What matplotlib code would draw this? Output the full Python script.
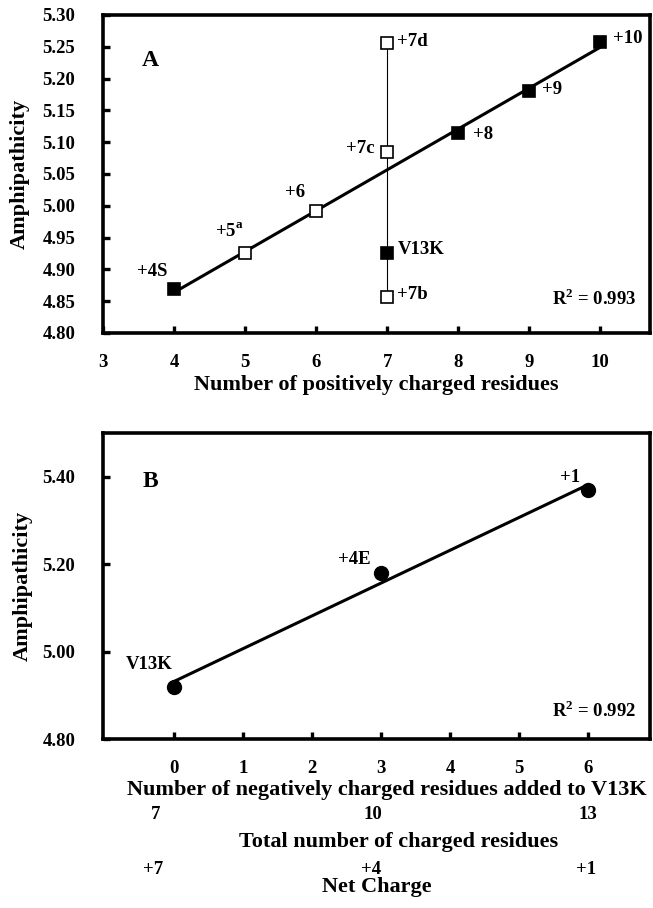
import numpy as np
import matplotlib
matplotlib.use('Agg')
import matplotlib.pyplot as plt

plt.rcParams['font.family'] = ['Liberation Serif', 'DejaVu Serif']
plt.rcParams['font.weight'] = 'bold'

# panel A: amphipathicity vs number of positively charged residues
a_names = ['+4S', '+5$^{\\mathregular{a}}$', '+6', '+7b', '+7c', '+7d', 'V13K', '+8', '+9', '+10']
a_pos = [4, 5, 6, 7, 7, 7, 7, 8, 9, 10]
a_amph = [4.869, 4.925, 4.992, 4.856, 5.084, 5.256, 4.925, 5.115, 5.181, 5.257]
a_filled = [True, False, False, False, False, False, True, True, True, True]
a_fit_names = ['+4S', '+5$^{\\mathregular{a}}$', '+6', '+8', '+9', '+10']
a_r2 = 0.993

# panel B: amphipathicity vs negatively charged residues added to V13K
b_names = ['V13K', '+4E', '+1']
b_neg = [0, 3, 6]
b_amph = [4.92, 5.18, 5.37]
b_total = ['7', '10', '13']
b_net = ['+7', '+4', '+1']
b_r2 = 0.992

fig = plt.figure(figsize=(6.53, 9.08), dpi=100)
axA = fig.add_axes([0.1577, 0.6333, 0.8377, 0.3502])
axB = fig.add_axes([0.1577, 0.1861, 0.8377, 0.3370])

for ax in (axA, axB):
    for s in ax.spines.values():
        s.set_linewidth(2.6)
    ax.tick_params(direction='in', length=5, width=2.4, labelsize=13.5, top=False, right=False)
    ax.tick_params(axis='y', pad=20)
    ax.tick_params(axis='x', pad=15)

# ---- A ----
axA.set_xlim(3, 10.7)
axA.set_ylim(4.80, 5.30)
axA.set_xticks(range(3, 11))
axA.set_yticks(np.arange(4.80, 5.301, 0.05))
axA.yaxis.set_major_formatter(matplotlib.ticker.FormatStrFormatter('%.2f'))

fx = np.array([p for p, n in zip(a_pos, a_names) if n in a_fit_names])
fy = np.array([v for v, n in zip(a_amph, a_names) if n in a_fit_names])
k, b = np.polyfit(fx, fy, 1)
xx = np.array([fx.min(), fx.max()])
axA.plot(xx, k * xx + b, color='black', lw=2.2, zorder=2)

sev = [v for p, v in zip(a_pos, a_amph) if p == 7]
axA.plot([7, 7], [min(sev), max(sev)], color='black', lw=0.8, zorder=1)

for p, v, f in zip(a_pos, a_amph, a_filled):
    axA.plot(p, v, 's', ms=9 if f else 8.5, mfc='black' if f else 'white',
             mec='black', mew=1.2, zorder=3)

a_off = {'+4S': (-16, 13, 'center'), '+5$^{\\mathregular{a}}$': (-11, 16, 'center'),
         '+6': (-15, 13, 'center'), '+7c': (-9, 3, 'right'), '+7d': (7, 1, 'left'),
         'V13K': (8, 3, 'left'), '+7b': (7, 2, 'left'), '+8': (11, -1, 'left'),
         '+9': (9, 1, 'left'), '+10': (9, 3, 'left')}
for n, p, v in zip(a_names, a_pos, a_amph):
    dx, dy, ha = a_off[n]
    axA.annotate(n, (p, v), xytext=(dx, dy), textcoords='offset points',
                 ha=ha, va='center', fontsize=13.5, fontweight='bold')

axA.text(0.086, 0.858, 'A', transform=axA.transAxes, fontsize=17, fontweight='bold',
         ha='center', va='center')
axA.text(0.975, 0.108, 'R$^{\\mathregular{2}}$ = %.3f' % a_r2, transform=axA.transAxes,
         ha='right', va='center', fontsize=13.5, fontweight='bold')
axA.set_xlabel('Number of positively charged residues', fontsize=16, fontweight='bold', labelpad=3)
axA.set_ylabel('Amphipathicity', fontsize=16, fontweight='bold')
axA.yaxis.set_label_coords(-0.133, 0.5)

# ---- B ----
axB.set_xlim(-1.03, 6.9)
axB.set_ylim(4.80, 5.50)
axB.set_xticks(range(0, 7))
axB.set_yticks([4.80, 5.00, 5.20, 5.40])
axB.yaxis.set_major_formatter(matplotlib.ticker.FormatStrFormatter('%.2f'))

k2, b2 = np.polyfit(b_neg, b_amph, 1)
xx = np.array([min(b_neg), max(b_neg)])
axB.plot(xx, k2 * xx + b2, color='black', lw=2.2, zorder=2)
axB.plot(b_neg, b_amph, 'o', ms=10, color='black', zorder=3)

b_off = {'V13K': (-18, 16), '+4E': (-19, 10), '+1': (-13, 9)}
for n, p, v in zip(b_names, b_neg, b_amph):
    dx, dy = b_off[n]
    axB.annotate(n, (p, v), xytext=(dx, dy), textcoords='offset points',
                 ha='center', va='center', fontsize=13.5, fontweight='bold')

axB.text(0.086, 0.84, 'B', transform=axB.transAxes, fontsize=17, fontweight='bold',
         ha='center', va='center')
axB.text(0.975, 0.092, 'R$^{\\mathregular{2}}$ = %.3f' % b_r2, transform=axB.transAxes,
         ha='right', va='center', fontsize=13.5, fontweight='bold')
axB.set_xlabel('Number of negatively charged residues added to V13K', fontsize=16,
               fontweight='bold')
axB.xaxis.set_label_coords(0.519, -0.134)
axB.set_ylabel('Amphipathicity', fontsize=16, fontweight='bold')
axB.yaxis.set_label_coords(-0.128, 0.5)

tr = axB.get_xaxis_transform()
sec_x = [-0.27, 2.88, 6.0]
for x, t, nc in zip(sec_x, b_total, b_net):
    axB.text(x, -0.248, t, transform=tr, ha='center', va='center', fontsize=13.5, fontweight='bold')
    axB.text(x - 0.03, -0.428, nc, transform=tr, ha='center', va='center', fontsize=13.5, fontweight='bold')
axB.text(0.541, -0.337, 'Total number of charged residues', transform=axB.transAxes,
         ha='center', va='center', fontsize=16, fontweight='bold')
axB.text(0.5, -0.484, 'Net Charge', transform=axB.transAxes,
         ha='center', va='center', fontsize=16, fontweight='bold')

fig.savefig('out.png', dpi=100)
